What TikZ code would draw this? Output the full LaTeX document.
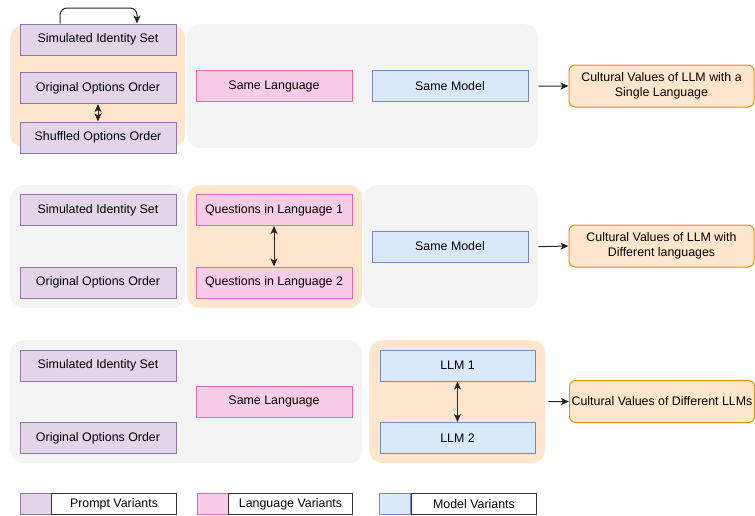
\documentclass[tikz,border=0pt]{standalone}
\usepackage{fontspec}
\setmainfont{Liberation Sans}
\usetikzlibrary{arrows.meta}

\definecolor{promptfill}{HTML}{E1D5E7}
\definecolor{promptline}{HTML}{9673A6}
\definecolor{langfill}{HTML}{F8CBE6}
\definecolor{langline}{HTML}{E06BB5}
\definecolor{modelfill}{HTML}{DAE8FC}
\definecolor{modelline}{HTML}{6C8EBF}
\definecolor{grpgray}{HTML}{F4F4F4}
\definecolor{grporange}{HTML}{FFE6CC}
\definecolor{resline}{HTML}{D79B00}
\definecolor{legline}{HTML}{333333}

\tikzset{
  box/.style={draw, line width=1pt, minimum width=156pt, minimum height=31pt,
    inner sep=0pt, font=\fontsize{12.4}{14.5}\selectfont},
  prompt/.style={box, fill=promptfill, draw=promptline},
  lang/.style={box, fill=langfill, draw=langline},
  model/.style={box, fill=modelfill, draw=modelline},
  result/.style={draw=resline, fill=grporange, line width=1pt, rounded corners=6pt,
    minimum width=185pt, minimum height=42pt, inner sep=0pt, align=center,
    font=\fontsize{12.4}{15.5}\selectfont},
  grp/.style={rounded corners=13pt, inner sep=0pt, anchor=north west},
  graygrp/.style={grp, fill=grpgray},
  orangegrp/.style={grp, fill=grporange},
  tip/.style={Stealth[length=8pt,width=7pt,inset=2pt]},
  conn/.style={line width=1pt, draw=black!85, -{Stealth[length=8pt,width=7pt,inset=2pt]}},
  bothway/.style={line width=1pt, draw=black!85,
    {Stealth[length=8pt,width=7pt,inset=2pt]}-{Stealth[length=8pt,width=7pt,inset=2pt]}},
  swatch/.style={draw, line width=1pt, minimum width=31pt, minimum height=21pt, inner sep=0pt, anchor=north west},
  legtext/.style={draw=legline, fill=white, line width=1pt, minimum height=21pt, inner sep=0pt,
    anchor=north west, font=\fontsize{12.4}{14.5}\selectfont},
}

\begin{document}
\begin{tikzpicture}[x=1pt, y=-1pt]
\useasboundingbox (0,0) rectangle (755,515);

% ---------- row 1: prompt variants ----------
\node[orangegrp, minimum width=175pt, minimum height=122pt] (g1a) at (10,25) {};
\node[graygrp, minimum width=351pt, minimum height=124pt] (g1b) at (187,24) {};
\node[prompt] (sis1) at (98,39.5) {Simulated Identity Set};
\node[prompt] (oo1) at (98,88) {Original Options Order};
\node[prompt] (so1) at (98,137.5) {Shuffled Options Order};
\node[lang] (sl1) at (274,86) {Same Language};
\node[model] (sm1) at (450,86) {Same Model};
\node[result] (res1) at (661.5,86) {Cultural Values of LLM with a\\Single Language};

\coordinate (looptop) at (98,8);
\draw[conn, rounded corners=7pt] ([xshift=-38pt]sis1.north) |- (looptop) -| ([xshift=39pt]sis1.north);
\draw[line width=1pt, draw=black!85,
  {Stealth[length=8pt,width=7pt,inset=2pt]}-{Stealth[length=8pt,width=7pt,inset=2pt]}]
  (oo1.south) -- (so1.north);
\draw[conn] (g1b.east) -- (res1.west);

% ---------- row 2: language variants ----------
\node[graygrp, minimum width=175pt, minimum height=123pt] (g2a) at (10,185) {};
\node[orangegrp, minimum width=175pt, minimum height=123pt] (g2b) at (187,185) {};
\node[graygrp, minimum width=174pt, minimum height=123pt] (g2c) at (364,185) {};
\node[prompt] (sis2) at (98,210) {Simulated Identity Set};
\node[prompt] (oo2) at (98,282.5) {Original Options Order};
\node[lang] (q1) at (274,210) {Questions in Language 1};
\node[lang] (q2) at (274,282.5) {Questions in Language 2};
\node[model] (sm2) at (450,246.5) {Same Model};
\node[result] (res2) at (661.5,246) {Cultural Values of LLM with\\Different languages};

\draw[bothway] (q1.south) -- (q2.north);
\draw[conn] (g2c.east) -- (res2.west);

% ---------- row 3: model variants ----------
\node[graygrp, minimum width=352pt, minimum height=123pt] (g3a) at (10,340) {};
\node[orangegrp, minimum width=176pt, minimum height=123pt] (g3b) at (369,340) {};
\node[prompt] (sis3) at (98,365.5) {Simulated Identity Set};
\node[prompt] (oo3) at (98,438) {Original Options Order};
\node[lang] (sl3) at (274,401.5) {Same Language};
\node[model, minimum width=155pt] (llm1) at (457.5,365.5) {LLM 1};
\node[model, minimum width=155pt] (llm2) at (457.5,438) {LLM 2};
\node[result] (res3) at (662,401.5) {Cultural Values of Different LLMs};

\draw[bothway] (llm1.south) -- (llm2.north);
\draw[conn, shorten <=3pt] (g3b.east) -- (res3.west);

% ---------- legend ----------
\node[swatch, fill=promptfill, draw=promptline] (k1) at (20,493) {};
\node[legtext, minimum width=125pt] (t1) at (51,493) {Prompt Variants};
\node[swatch, fill=langfill, draw=langline] (k2) at (197,493) {};
\node[legtext, minimum width=124pt] (t2) at (228,493) {Language Variants};
\node[swatch, fill=modelfill, draw=modelline] (k3) at (379,493) {};
\node[legtext, minimum width=125pt] (t3) at (411,493) {Model Variants};
\end{tikzpicture}
\end{document}
